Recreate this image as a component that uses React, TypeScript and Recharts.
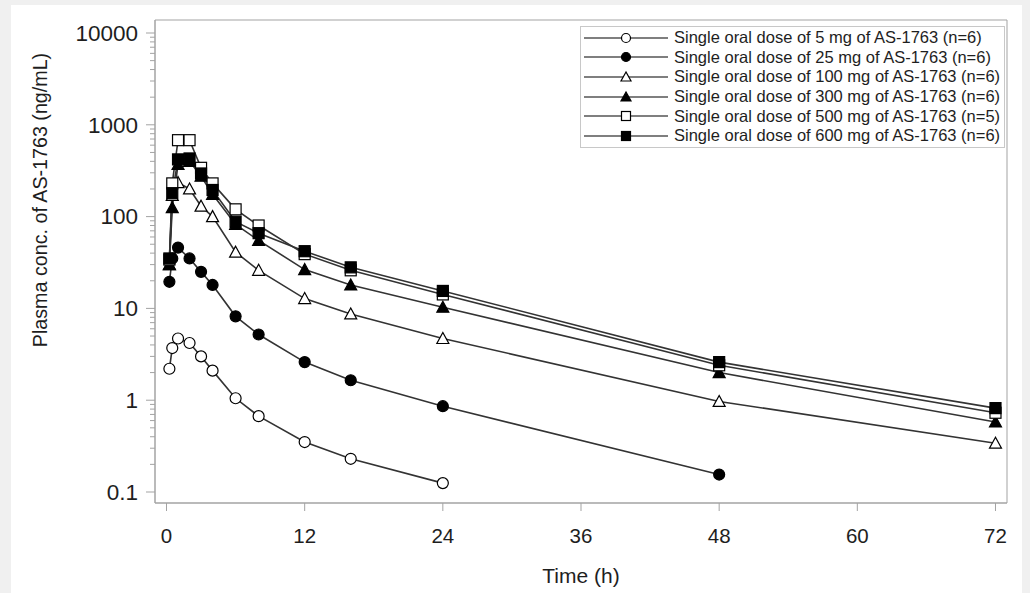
import {
  LineChart,
  Line,
  XAxis,
  YAxis,
  Legend,
  ReferenceArea,
} from "recharts";

// sampling times (h)
const times = [0.25, 0.5, 1, 2, 3, 4, 6, 8, 12, 16, 24, 48, 72];

// mean plasma concentrations (ng/mL), one entry per time point that was measured
const conc5mg = [2.2, 3.7, 4.7, 4.2, 3.0, 2.1, 1.05, 0.67, 0.35, 0.23, 0.125];
const conc25mg = [19.5, 35, 46, 35, 25, 18, 8.2, 5.2, 2.6, 1.65, 0.86, 0.155];
const conc100mg = [30, 170, 235, 200, 130, 100, 41, 26, 12.8, 8.7, 4.7, 0.97, 0.34];
const conc300mg = [30, 125, 370, 400, 275, 175, 82, 55, 26.5, 18, 10.3, 2.0, 0.58];
const conc500mg = [34, 230, 680, 680, 340, 230, 120, 80, 39, 26, 14.2, 2.4, 0.73];
const conc600mg = [35, 180, 420, 430, 295, 195, 88, 66, 42, 28, 15.5, 2.6, 0.82];

const seriesNames = [
  "Single oral dose of 5 mg of AS-1763 (n=6)",
  "Single oral dose of 25 mg of AS-1763 (n=6)",
  "Single oral dose of 100 mg of AS-1763 (n=6)",
  "Single oral dose of 300 mg of AS-1763 (n=6)",
  "Single oral dose of 500 mg of AS-1763 (n=5)",
  "Single oral dose of 600 mg of AS-1763 (n=6)",
];

const xTicks = [0, 12, 24, 36, 48, 60, 72];
const yMajorTicks = [0.1, 1, 10, 100, 1000, 10000];
const yMinorSteps = [2, 3, 4, 5, 6, 7, 8, 9];

const FONT = '"Liberation Sans", Arial, sans-serif';
const AXIS_GRAY = "#a3a3a3";
const TEXT = "#1e1e1e";
const LINE = "#333333";

type Shape = "circle" | "triangle" | "square";

const series: { name: string; values: number[]; shape: Shape; filled: boolean }[] = [
  { name: seriesNames[0], values: conc5mg, shape: "circle", filled: false },
  { name: seriesNames[1], values: conc25mg, shape: "circle", filled: true },
  { name: seriesNames[2], values: conc100mg, shape: "triangle", filled: false },
  { name: seriesNames[3], values: conc300mg, shape: "triangle", filled: true },
  { name: seriesNames[4], values: conc500mg, shape: "square", filled: false },
  { name: seriesNames[5], values: conc600mg, shape: "square", filled: true },
];

const yTicks = [
  ...yMajorTicks,
  ...yMajorTicks.slice(0, -1).flatMap((m) => yMinorSteps.map((s) => +(m * s).toPrecision(3))),
];

function Marker({ cx, cy, shape, filled, size }: { cx: number; cy: number; shape: Shape; filled: boolean; size: number }) {
  const h = size / 2;
  const fill = filled ? "#000" : "#fff";
  if (shape === "circle") {
    return <circle cx={cx} cy={cy} r={h} fill={fill} stroke="#000" strokeWidth={1.2} />;
  }
  if (shape === "square") {
    return <rect x={cx - h} y={cy - h} width={size} height={size} fill={fill} stroke="#000" strokeWidth={1.2} />;
  }
  return (
    <polygon
      points={`${cx},${cy - h - 0.5} ${cx - h - 0.5},${cy + h - 0.5} ${cx + h + 0.5},${cy + h - 0.5}`}
      fill={fill}
      stroke="#000"
      strokeWidth={1.2}
      strokeLinejoin="miter"
    />
  );
}

const makeDot = (shape: Shape, filled: boolean) => (props: any) => {
  const { cx, cy, index } = props;
  if (cx == null || cy == null) return <g key={index} />;
  return (
    <g key={`dot-${index}`}>
      <Marker cx={cx} cy={cy} shape={shape} filled={filled} size={11} />
    </g>
  );
};

function YTick(props: any) {
  const { x, y, payload } = props;
  const major = yMajorTicks.includes(payload.value);
  return (
    <g>
      <line x1={x - (major ? 9 : 5)} x2={x} y1={y} y2={y} stroke={AXIS_GRAY} strokeWidth={1} />
      {major && (
        <text x={x - 17} y={y} dy="0.35em" textAnchor="end" fontSize={22.5} fontFamily={FONT} fill={TEXT}>
          {String(payload.value)}
        </text>
      )}
    </g>
  );
}

function YLabel(props: any) {
  const { viewBox } = props;
  const x = viewBox.x + 29;
  const y = viewBox.y + 180;
  return (
    <text
      x={x}
      y={y}
      transform={`rotate(-90, ${x}, ${y})`}
      textAnchor="middle"
      dominantBaseline="central"
      fontSize={19.7}
      fontFamily={FONT}
      fill={TEXT}
    >
      Plasma conc. of AS-1763 (ng/mL)
    </text>
  );
}

function LegendBox() {
  return (
    <div
      style={{
        border: "1px solid #c8c8c8",
        background: "#fff",
        padding: "1px 4px 1px 2px",
        fontFamily: FONT,
        fontSize: 16.5,
        color: TEXT,
      }}
    >
      {series.map((s) => (
        <div key={s.name} style={{ display: "flex", alignItems: "center", height: 19.6, whiteSpace: "nowrap" }}>
          <svg width={86} height={14} style={{ marginRight: 5 }}>
            <line x1={1} x2={85} y1={7} y2={7} stroke="#000" strokeWidth={1.2} />
            <Marker cx={43} cy={7} shape={s.shape} filled={s.filled} size={9} />
          </svg>
          <span>{s.name}</span>
        </div>
      ))}
    </div>
  );
}

export default function App() {
  return (
    <div style={{ position: "absolute", left: 0, top: 0, width: 1030, height: 593, background: "#f0f0f0" }}>
      <div style={{ position: "absolute", left: 11, top: 5, width: 1011, height: 588, background: "#fff" }}>
        <LineChart width={1011} height={588} margin={{ top: 15, right: 15, left: 0, bottom: 0 }}>
          <XAxis
            type="number"
            dataKey="t"
            domain={[-1, 73]}
            ticks={xTicks}
            allowDataOverflow
            height={90}
            stroke={AXIS_GRAY}
            tickSize={8}
            tickMargin={17}
            tick={{ fontSize: 20.5, fontFamily: FONT, fill: TEXT }}
            label={{
              value: "Time (h)",
              position: "insideBottom",
              offset: 10,
              style: { fontSize: 21, fontFamily: FONT, fill: TEXT },
            }}
          />
          <YAxis
            type="number"
            scale="log"
            domain={[0.0759, 13857]}
            allowDataOverflow
            ticks={yTicks}
            interval={0}
            width={144}
            stroke={AXIS_GRAY}
            tickLine={false}
            tickSize={0}
            tickMargin={0}
            tick={<YTick />}
            label={<YLabel />}
          />
          <ReferenceArea
            x1={-1}
            x2={73}
            y1={0.0759}
            y2={13857}
            fill="none"
            stroke={AXIS_GRAY}
            strokeWidth={1}
            ifOverflow="visible"
          />
          <Legend
            layout="vertical"
            align="center"
            verticalAlign="middle"
            wrapperStyle={{ position: "absolute", left: 569, top: 21, width: "auto" }}
            content={() => <LegendBox />}
          />
          {series.map((s) => (
            <Line
              key={s.name}
              name={s.name}
              data={s.values.map((c, i) => ({ t: times[i], c }))}
              dataKey="c"
              type="linear"
              stroke={LINE}
              strokeWidth={1.6}
              dot={makeDot(s.shape, s.filled)}
              activeDot={false}
              isAnimationActive={false}
            />
          ))}
        </LineChart>
      </div>
    </div>
  );
}
